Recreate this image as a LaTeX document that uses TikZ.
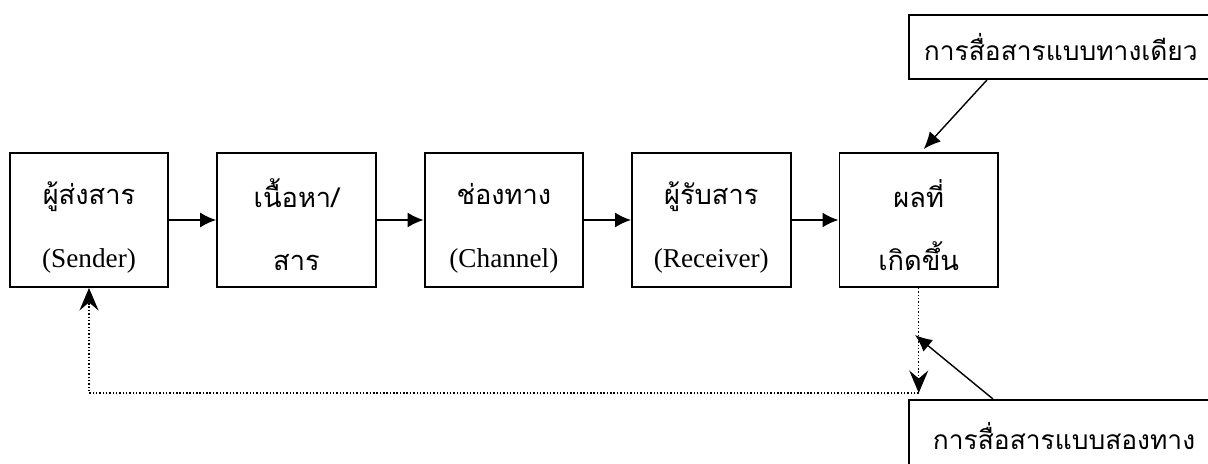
\documentclass[tikz,border=0pt]{standalone}
\usepackage{fontspec}
\setmainfont{Liberation Serif}
\newfontfamily\thaifont[Script=Thai]{Loma}
\usetikzlibrary{arrows.meta, calc, positioning}
\newcommand{\pair}[2]{\rule{0pt}{0.76cm}#1\\#2}

\begin{document}
\begin{tikzpicture}[
  blok/.style={draw, line width=1.1pt, minimum width=3.17cm, minimum height=2.68cm,
    inner sep=0pt, align=center, font=\fontsize{15.5}{35.5}\selectfont},
  note/.style={draw, line width=1.1pt, anchor=north west, align=left,
    font=\thaifont\fontsize{15}{18}\selectfont},
  flow/.style={-{Latex[length=0.32cm,width=0.3cm]}, line width=1.1pt},
  hint/.style={-{Latex[length=0.34cm,width=0.3cm]}, line width=0.8pt},
  back/.style={-{Stealth[length=0.45cm,width=0.38cm,inset=0.16cm]}, line width=0.8pt,
    dash pattern=on 0.8pt off 1.1pt}
]
\useasboundingbox (0,0) rectangle (24.16,9.26);
\clip (0,0) rectangle (24.16,9.26);

\node[blok] (sender) at (1.78,4.86) {\pair{\thaifont ผู้ส่งสาร}{(Sender)}};
\node[blok, right=0.94cm of sender] (message) {\pair{\thaifont เนื้อหา/}{\thaifont สาร}};
\node[blok, right=0.94cm of message] (channel) {\pair{\thaifont ช่องทาง}{(Channel)}};
\node[blok, right=0.94cm of channel] (receiver) {\pair{\thaifont ผู้รับสาร}{(Receiver)}};
\node[blok, right=0.94cm of receiver] (effect) {\pair{\thaifont ผลที่}{\thaifont เกิดขึ้น}};

\draw[flow] (sender) -- (message);
\draw[flow] (message) -- (channel);
\draw[flow] (channel) -- (receiver);
\draw[flow] (receiver) -- (effect);

\node[note, text width=6cm, minimum height=1.28cm, inner xsep=0.3cm, inner ysep=0pt]
  (oneway) at (18.16,8.98) {การสื่อสารแบบทางเดียว};
\node[note, text width=6cm, inner xsep=0.48cm, inner ysep=0.44cm]
  (twoway) at (18.16,1.28) {การสื่อสารแบบสองทาง};

\coordinate (corner) at (effect.south |- 0,1.40);
\coordinate (hit) at (18.30,2.56);

\draw[back] (effect.south) -- (corner);
\draw[back] (corner) -- (sender.south |- corner) -- (sender.south);

\draw[hint] ($(oneway.south west)+(1.58,0)$) -- ($(effect.north)+(0.1,0.06)$);
\draw[hint] ($(twoway.north west)+(1.70,0)$) -- (hit);
\end{tikzpicture}
\end{document}
